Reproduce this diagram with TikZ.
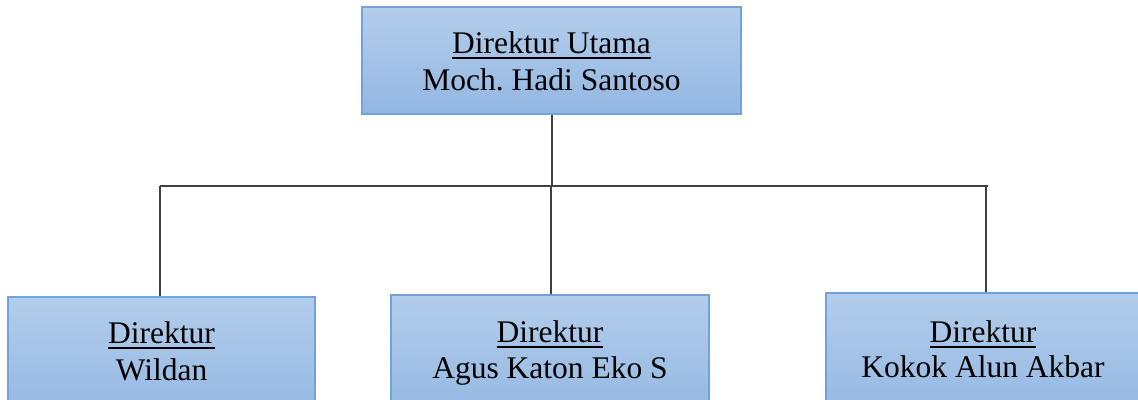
\documentclass[tikz,border=0pt]{standalone}
\usepackage{fontspec}
\setmainfont{Liberation Serif}
\frenchspacing
% underline drawn as a rule a little below the baseline
\newcommand{\titleline}[1]{\setbox0\hbox{#1}\rlap{\vrule height -3.5pt depth 5.5pt width \wd0}\box0}
\tikzset{
  orgbox/.style={draw=boxedge, line width=1.2pt, top color=boxtop, bottom color=boxbot, inner sep=0pt},
  orgtext/.style={anchor=base, font=\fontsize{31.5}{38}\selectfont, inner sep=0pt},
  link/.style={draw=linegray, line width=1.8pt}
}
\definecolor{boxtop}{HTML}{B3CDEB}
\definecolor{boxbot}{HTML}{93B7E2}
\definecolor{boxedge}{HTML}{72A2DA}
\definecolor{linegray}{HTML}{404040}
\begin{document}
\begin{tikzpicture}[x=1pt,y=-1pt]
  \useasboundingbox (0,0) rectangle (1138,399);
  \clip (0,0) rectangle (1138,399);
  % boxes
  \node[orgbox, minimum width=379pt, minimum height=107pt] (top) at (551.5,60.5) {};
  \node[orgbox, minimum width=307pt, minimum height=123pt] (wildan) at (161.5,358.5) {};
  \node[orgbox, minimum width=318pt, minimum height=125pt] (agus) at (550,357.5) {};
  \node[orgbox, minimum width=314pt, minimum height=127pt] (kokok) at (983,356.5) {};
  % names
  \node[orgtext] (t1) at (551.5,53) {\titleline{Direktur Utama}};
  \node[orgtext] (t2) at (551.5,90) {Moch. Hadi Santoso};
  \node[orgtext] (w1) at (161.5,343) {\titleline{Direktur}};
  \node[orgtext] (w2) at (161.5,380) {Wildan};
  \node[orgtext] (a1) at (550,342) {\titleline{Direktur}};
  \node[orgtext] (a2) at (550,378) {Agus Katon Eko S};
  \node[orgtext] (k1) at (983,342) {\titleline{Direktur}};
  \node[orgtext] (k2) at (983,377) {Kokok Alun Akbar};
  % connectors
  \coordinate (busL) at (160,186);
  \coordinate (busR) at (988,186);
  \coordinate (busM) at (551,186);
  \coordinate (busT) at (552,186);
  \coordinate (busK) at (986,186);
  \draw[link] (busL) -- (busR);
  \draw[link] (busT |- top.south) -- (busT);
  \draw[link] (busL) -- (busL |- wildan.north);
  \draw[link] (busM) -- (busM |- agus.north);
  \draw[link] (busK) -- (busK |- kokok.north);
\end{tikzpicture}
\end{document}
